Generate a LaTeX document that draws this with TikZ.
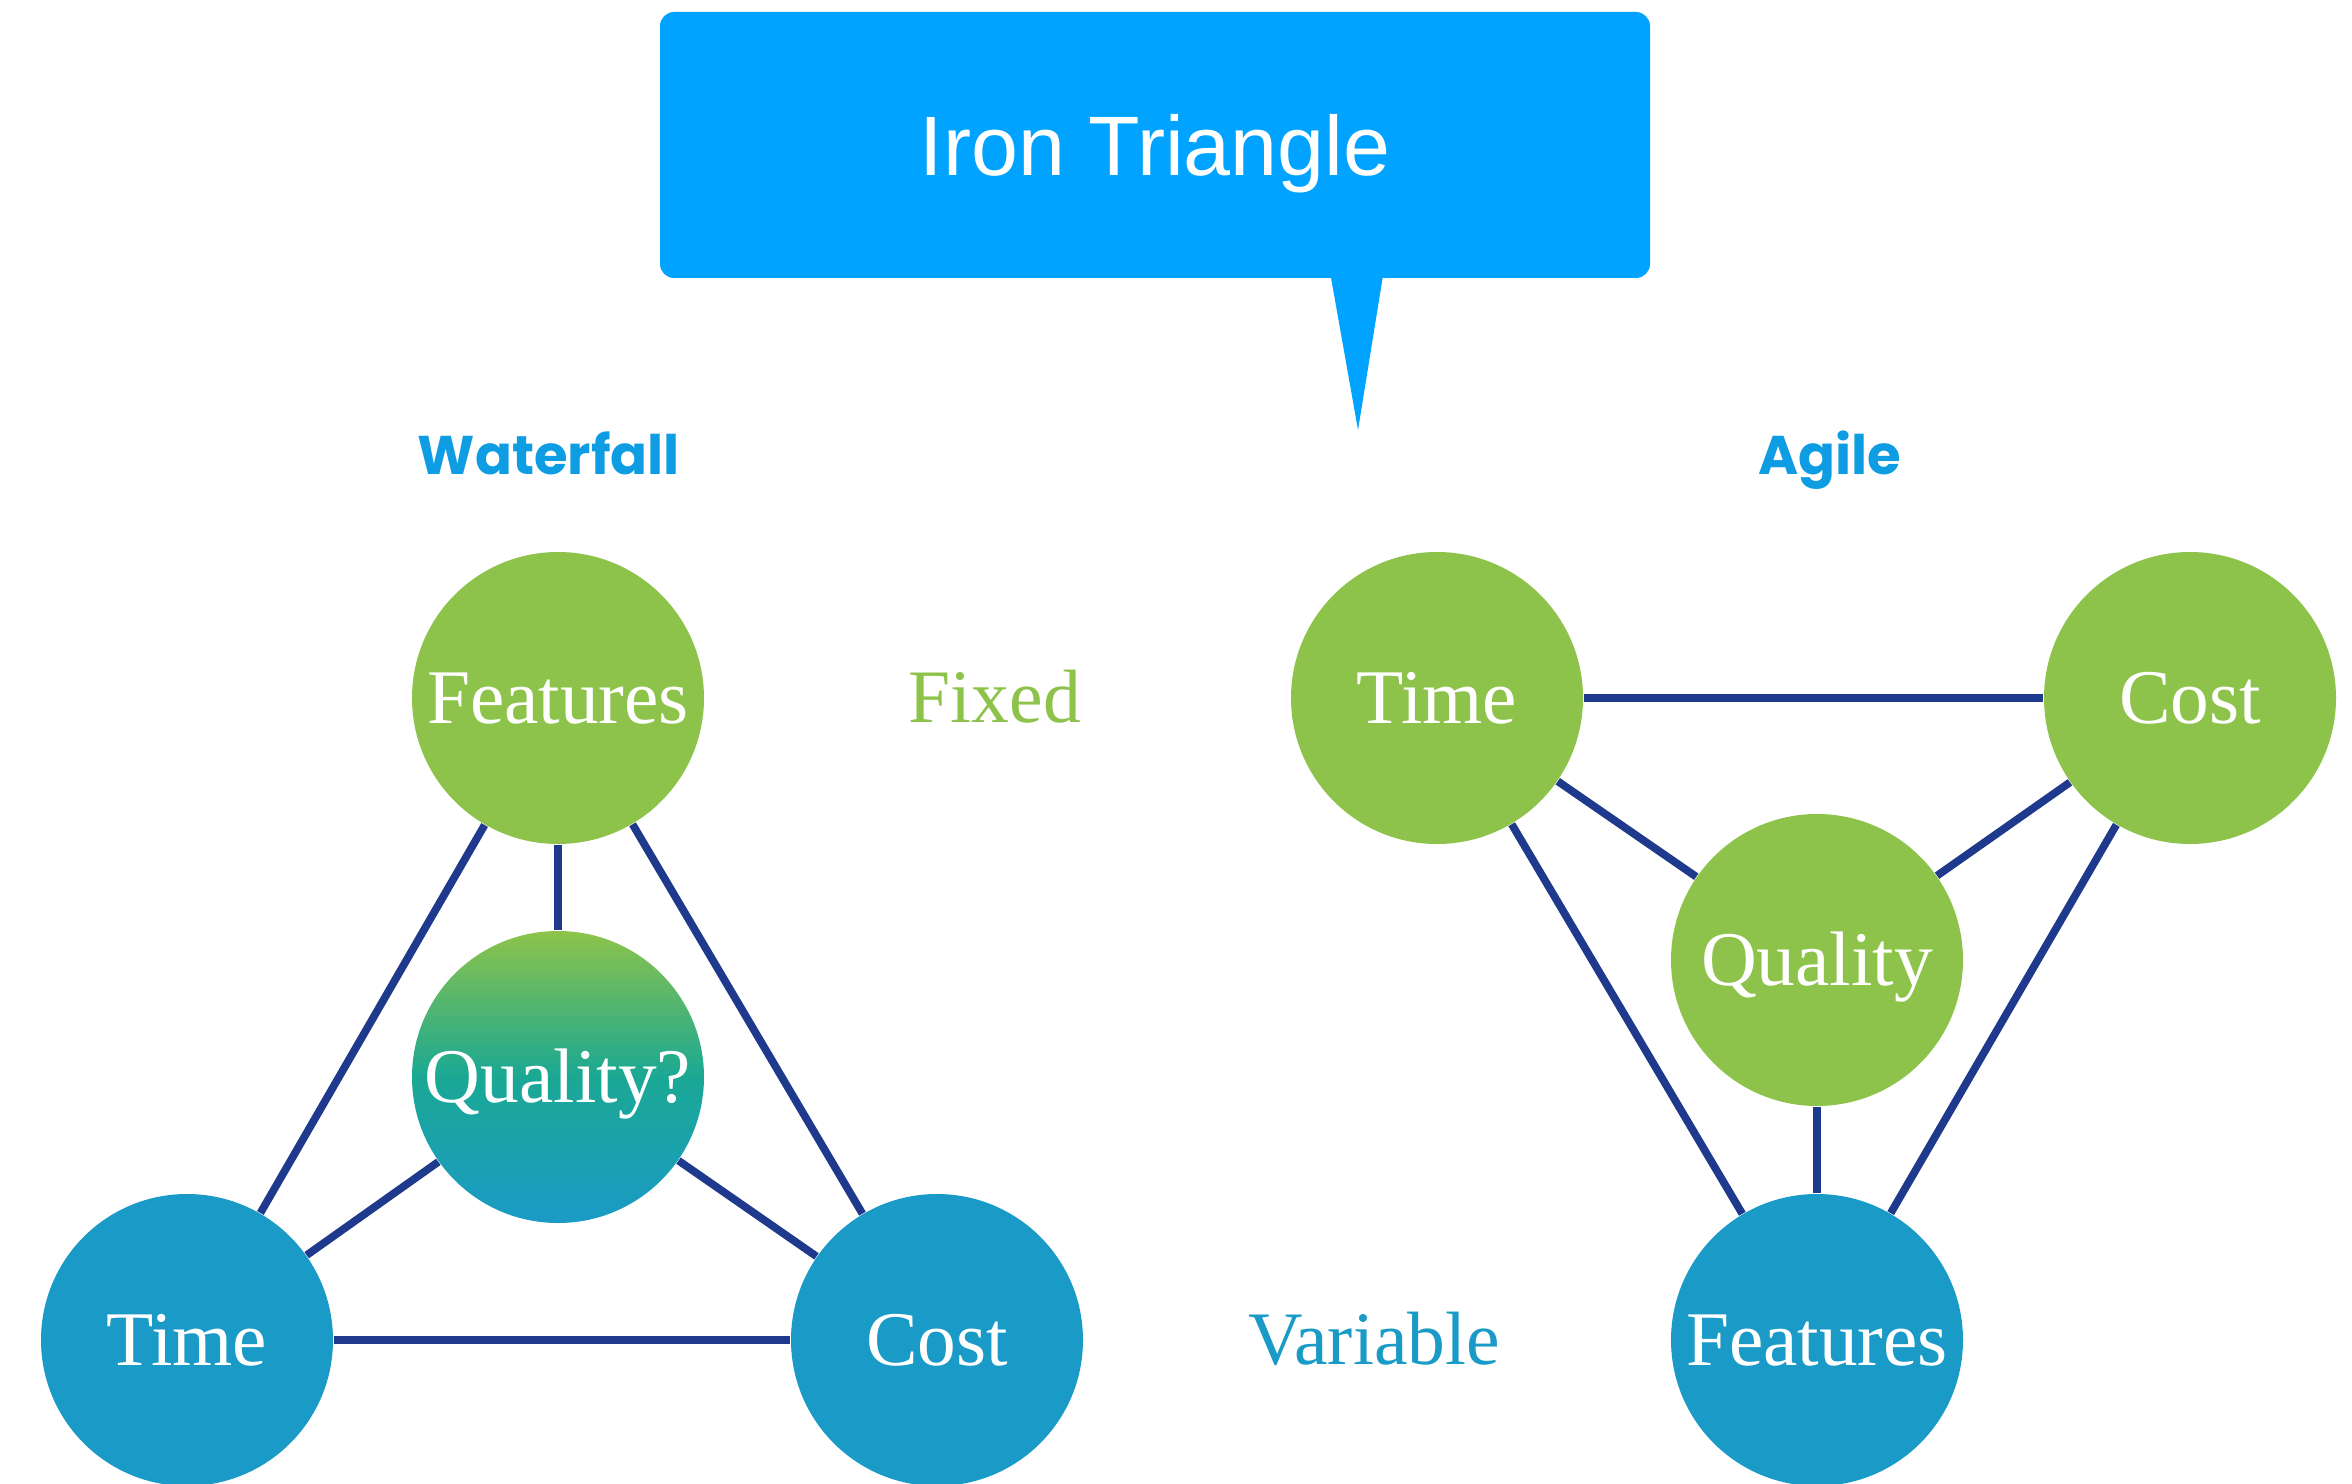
\documentclass[tikz,border=0pt]{standalone}
\usepackage{fontspec}
\setmainfont{Liberation Serif}
\newfontfamily\boxfont{Liberation Sans}
\newfontfamily\headfont{Poppins}
\usetikzlibrary{calc}

\definecolor{calloutblue}{HTML}{00A3FF}
\definecolor{ballgreen}{HTML}{8DC34A}
\definecolor{ballblue}{HTML}{1A9AC6}
\definecolor{ballteal}{HTML}{1AA894}
\definecolor{linknavy}{HTML}{1F3A8C}
\definecolor{headblue}{HTML}{0E9CE2}

\begin{document}
\begin{tikzpicture}[
    ball/.style={circle, minimum size=2.92cm, inner sep=0pt, text=white,
                 font=\fontsize{22}{26}\selectfont, text height=14.6pt, text depth=0pt},
    fixedball/.style={ball, fill=ballgreen},
    varball/.style={ball, fill=ballblue},
    link/.style={draw=linknavy, line width=2.2pt},
    heading/.style={font=\headfont\bfseries\fontsize{15.5}{19}\selectfont, text=headblue,
                    text height=11pt, text depth=0pt},
    side/.style={font=\fontsize{21.5}{25}\selectfont, text height=14.2pt, text depth=0pt}
  ]
    \useasboundingbox (0, 0) rectangle (23.52, -14.84);

    % Callout
    \node (title) [fill=calloutblue, rounded corners=4pt, minimum width=9.9cm,
          minimum height=2.66cm, text=white, text height=17.2pt, text depth=0pt,
          font=\boxfont\fontsize{24}{28}\selectfont] at (11.55, -1.45) {Iron Triangle};
    \coordinate (tip) at (13.58, -4.30);
    \fill [calloutblue] ($(title.south west)+(6.71, 0.05)$)
          -- ($(title.south west)+(7.24, 0.05)$) -- (tip) -- cycle;

    % Headings
    \node (waterfall) [heading] at (5.49, -4.55) {Waterfall};
    \node (agile) [heading] at (18.30, -4.55) {Agile};

    % Fixed and variable
    \node (fixed) [side, text=ballgreen] at (9.95, -6.98) {Fixed};
    \node (variable) [side, text=ballblue] at (13.74, -13.40) {Variable};

    % Waterfall triangle
    \node (wfFeatures) [fixedball] at (5.58, -6.98) {Features};
    \node (wfQuality) [ball, top color=ballgreen, bottom color=ballblue,
          middle color=ballteal] at (5.58, -10.77) {Quality?};
    \node (wfTime) [varball] at (1.87, -13.40) {Time};
    \node (wfCost) [varball] at (9.37, -13.40) {Cost};

    % Waterfall edges
    \draw [link] (wfFeatures) -- (wfTime);
    \draw [link] (wfFeatures) -- (wfCost);
    \draw [link] (wfFeatures) -- (wfQuality);
    \draw [link] (wfQuality) -- (wfTime);
    \draw [link] (wfQuality) -- (wfCost);
    \draw [link] (wfTime) -- (wfCost);

    % Agile triangle
    \node (agTime) [fixedball] at (14.37, -6.98) {Time};
    \node (agCost) [fixedball] at (21.90, -6.98) {Cost};
    \node (agQuality) [fixedball] at (18.17, -9.60) {Quality};
    \node (agFeatures) [varball] at (18.17, -13.40) {Features};

    % Agile edges
    \draw [link] (agTime) -- (agCost);
    \draw [link] (agTime) -- (agQuality);
    \draw [link] (agCost) -- (agQuality);
    \draw [link] (agTime) -- (agFeatures);
    \draw [link] (agCost) -- (agFeatures);
    \draw [link] (agQuality) -- (agFeatures);
  \end{tikzpicture}
\end{document}
